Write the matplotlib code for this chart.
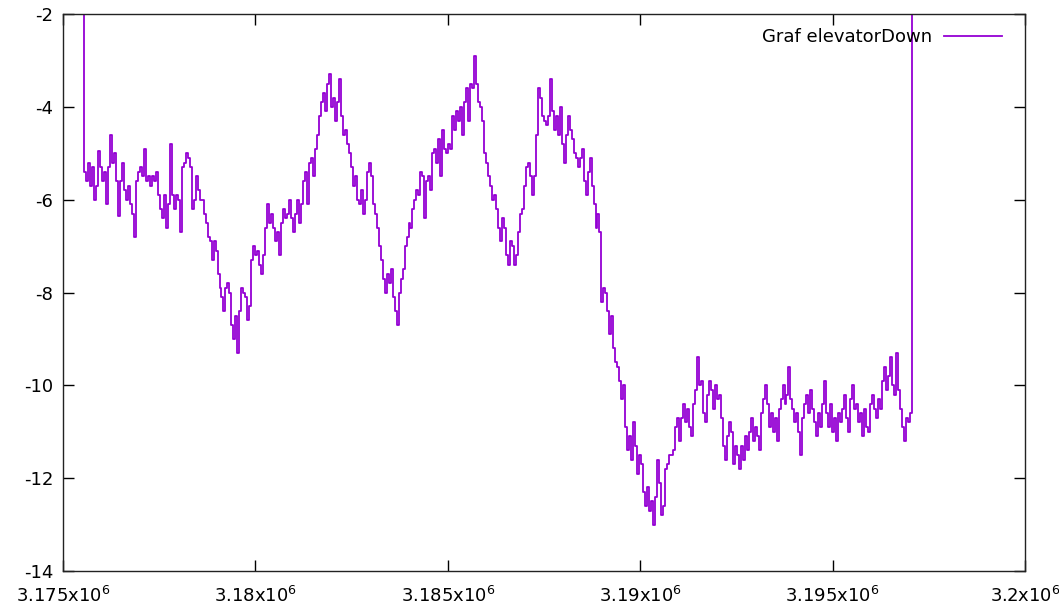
import matplotlib.pyplot as plt
import numpy as np

# samples of elevatorDown, evenly spaced in time
X_START = 3175500
X_STEP = 51.7

elevator_down = [
    0.0,
    -5.4, -5.6, -5.2, -5.7, -5.3, -6.0, -5.7, -4.95, -5.3, -5.6,
    -5.4, -6.1, -5.3, -4.6, -5.2, -5.0, -5.6, -6.35, -5.6, -5.2,
    -5.8, -6.0, -5.7, -6.1, -6.3, -6.8, -5.6, -5.4, -5.3, -5.5,
    -4.9, -5.6, -5.5, -5.7, -5.5, -5.6, -5.4, -5.9, -6.2, -6.4,
    -5.9, -6.6, -6.1, -4.8, -5.9, -6.2, -5.9, -6.0, -6.7, -5.3,
    -5.2, -5.0, -5.1, -5.3, -6.2, -6.0, -5.5, -5.8, -6.0, -6.0,
    -6.3, -6.5, -6.8, -6.9, -7.3, -6.9, -7.1, -7.6, -7.9, -8.1,
    -8.4, -7.9, -7.8, -8.0, -8.7, -9.0, -8.5, -9.3, -8.4, -7.9,
    -8.0, -8.1, -8.6, -8.3, -7.3, -7.0, -7.2, -7.1, -7.4, -7.6,
    -7.2, -6.6, -6.1, -6.5, -6.3, -6.6, -6.9, -6.7, -7.2, -6.5,
    -6.2, -6.4, -6.3, -6.0, -6.4, -6.7, -6.3, -6.0, -6.5, -6.1,
    -5.6, -5.4, -6.1, -5.2, -5.1, -5.5, -4.9, -4.6, -4.2, -3.9,
    -3.7, -4.1, -3.5, -3.3, -4.0, -3.8, -4.3, -3.9, -3.4, -4.2,
    -4.6, -4.5, -4.8, -5.0, -5.3, -5.7, -5.5, -6.0, -6.1, -5.8,
    -6.3, -6.0, -5.4, -5.2, -5.5, -6.1, -6.3, -6.6, -7.0, -7.3,
    -7.7, -8.0, -7.6, -7.8, -7.5, -8.1, -8.4, -8.7, -8.0, -7.7,
    -7.5, -7.0, -6.8, -6.5, -6.6, -6.2, -6.0, -5.8, -5.9, -5.4,
    -5.5, -6.4, -5.6, -5.5, -5.8, -5.0, -4.9, -5.2, -4.7, -5.5,
    -4.5, -4.9, -5.0, -4.8, -4.9, -4.2, -4.5, -4.1, -4.3, -4.0,
    -4.6, -3.9, -3.6, -4.3, -3.5, -3.6, -2.9, -3.5, -3.9, -4.0,
    -4.3, -5.0, -5.2, -5.5, -5.7, -6.0, -5.9, -6.2, -6.6, -6.9,
    -6.4, -6.6, -7.2, -7.4, -6.9, -7.0, -7.4, -7.2, -6.7, -6.3,
    -6.2, -5.7, -5.3, -5.2, -5.5, -5.9, -5.5, -4.6, -3.6, -3.8,
    -4.2, -4.3, -4.4, -4.2, -3.4, -4.1, -4.5, -4.2, -4.6, -4.0,
    -4.8, -5.2, -4.6, -4.2, -4.5, -4.7, -5.0, -5.1, -5.3, -5.1,
    -4.9, -5.6, -5.9, -5.4, -5.1, -5.7, -6.1, -6.6, -6.3, -6.7,
    -8.2, -7.9, -8.0, -8.4, -8.9, -8.5, -9.2, -9.5, -9.6, -9.9,
    -10.3, -10.0, -10.9, -11.4, -11.1, -11.6, -10.8, -11.3, -11.9, -11.5,
    -11.7, -12.3, -12.6, -12.2, -12.7, -12.5, -13.0, -12.4, -11.6, -12.1,
    -12.8, -12.6, -11.8, -11.7, -11.5, -11.5, -11.4, -10.9, -10.7, -11.2,
    -10.7, -10.4, -10.8, -10.5, -10.9, -11.1, -10.4, -10.1, -9.4, -10.0,
    -9.9, -10.6, -10.8, -10.2, -9.9, -10.1, -10.5, -10.0, -10.3, -10.2,
    -10.7, -11.3, -11.6, -11.1, -10.8, -11.0, -11.7, -11.3, -11.5, -11.8,
    -11.3, -11.6, -11.1, -11.4, -11.0, -10.7, -11.2, -10.9, -11.1, -11.4,
    -10.6, -10.3, -10.0, -10.4, -10.9, -10.6, -11.0, -10.7, -11.2, -10.5,
    -10.3, -10.0, -10.4, -10.2, -9.6, -10.3, -10.5, -10.8, -10.6, -11.0,
    -11.5, -10.7, -10.4, -10.2, -10.6, -10.1, -10.5, -10.8, -11.1, -10.6,
    -10.9, -10.4, -9.9, -10.6, -10.9, -10.4, -11.0, -10.7, -11.2, -10.6,
    -10.8, -10.5, -10.2, -10.7, -11.0, -10.3, -10.0, -10.5, -10.4, -10.8,
    -10.6, -11.1, -10.5, -10.9, -11.0, -10.4, -10.2, -10.5, -10.7, -10.3,
    -10.5, -9.9, -9.6, -10.1, -9.8, -9.4, -10.0, -10.2, -9.3, -10.1,
    -10.5, -10.9, -11.2, -10.7, -10.8, -10.6,
    0.0,
]

x_ticks = [3.175e6, 3.18e6, 3.185e6, 3.19e6, 3.195e6, 3.2e6]
x_tick_labels = [r'3.175x10$^{6}$', r'3.18x10$^{6}$', r'3.185x10$^{6}$',
                 r'3.19x10$^{6}$', r'3.195x10$^{6}$', r'3.2x10$^{6}$']
y_ticks = [-14, -12, -10, -8, -6, -4, -2]

x = X_START + X_STEP * np.arange(len(elevator_down))

fig = plt.figure(figsize=(10.59, 6.12), dpi=100)
ax = fig.add_axes([63 / 1059, 41 / 612, 962 / 1059, 557 / 612])

ax.plot(x, elevator_down, color='#9400D3', lw=1.3, drawstyle='steps-post',
        label='Graf elevatorDown')

ax.set_xlim(3.175e6, 3.2e6)
ax.set_ylim(-14, -2)
ax.set_xticks(x_ticks)
ax.set_xticklabels(x_tick_labels)
ax.set_yticks(y_ticks)
ax.set_yticklabels([str(v) for v in y_ticks])

ax.tick_params(direction='in', length=8, width=1, labelsize=13, pad=7,
               top=True, right=True, colors='black')
ax.tick_params(axis='x', pad=11)
for s in ax.spines.values():
    s.set_linewidth(1.0)
    s.set_color('#222222')

ax.legend(loc='upper right', bbox_to_anchor=(0.976, 0.975), frameon=False,
          markerfirst=False, fontsize=13, handlelength=3.2, handletextpad=0.65,
          borderaxespad=0, borderpad=0)

fig.savefig('out.png', dpi=100)
